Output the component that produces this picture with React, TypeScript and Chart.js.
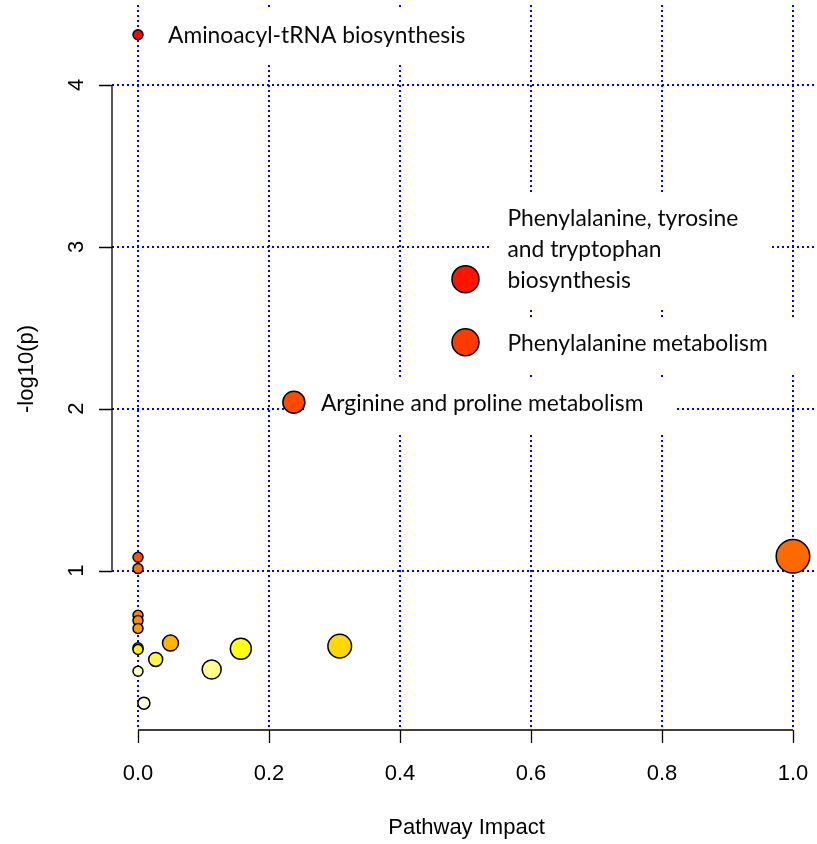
import { useEffect, useRef } from "react";
import { Chart, registerables } from "chart.js";

Chart.register(...registerables);

// Pathway analysis results: impact vs. -log10(p)
const pathwayImpact = [
  0.0, 0.5, 0.5, 0.238, 1.0,
  0.0, 0.0, 0.0, 0.0, 0.0,
  0.0, 0.0, 0.0, 0.009, 0.027,
  0.0496, 0.1125, 0.157, 0.308,
];
const negLogP = [
  4.31, 2.80, 2.41, 2.04, 1.088,
  1.082, 1.012, 0.724, 0.691, 0.642,
  0.523, 0.512, 0.378, 0.181, 0.451,
  0.552, 0.389, 0.517, 0.533,
];
const bubbleRadius = [
  5, 13.5, 13.5, 11, 16.8,
  5, 5, 5, 5, 5,
  5, 5, 5, 6, 7,
  8, 9.5, 10.5, 11.8,
];
const bubbleColor = [
  "#FF0000", "#FF1400", "#FF3A00", "#FF4800", "#FF6A00",
  "#FF5200", "#FF7000", "#FF8400", "#FF8C00", "#FF9A00",
  "#FFB400", "#FFF200", "#FFFFC8", "#FFFFE6", "#FFF54A",
  "#FFB400", "#FFFF88", "#FFFF10", "#FFD800",
];

// Annotated pathways (index into the arrays above) and their text lines
const labelIndex = [0, 1, 2, 3];
const labelLines = [
  ["Aminoacyl-tRNA biosynthesis"],
  ["Phenylalanine, tyrosine", "and tryptophan", "biosynthesis"],
  ["Phenylalanine metabolism"],
  ["Arginine and proline metabolism"],
];
const labelDx = [30, 42, 42, 27];

const xTicks = [0, 0.2, 0.4, 0.6, 0.8, 1.0];
const xTickLabels = ["0.0", "0.2", "0.4", "0.6", "0.8", "1.0"];
const yTicks = [1, 2, 3, 4];
const yTickLabels = ["1", "2", "3", "4"];

const xTitle = "Pathway Impact";
const yTitle = "-log10(p)";

const AXIS_FONT = '22px "Liberation Sans", Arial, sans-serif';
const LABEL_FONT = '22.8px Lato, "Open Sans", sans-serif';
const LINE_GAP = 31;

const decorations = {
  id: "pathwayDecorations",
  beforeDatasetsDraw(chart: any) {
    const { ctx, chartArea: area, scales } = chart;
    const xs = scales.x;
    const ys = scales.y;

    // dotted blue reference grid
    ctx.save();
    ctx.strokeStyle = "#0000FF";
    ctx.lineWidth = 2;
    ctx.setLineDash([2, 3]);
    xTicks.forEach((v) => {
      const px = Math.round(xs.getPixelForValue(v));
      ctx.beginPath();
      ctx.moveTo(px, area.top - 3);
      ctx.lineTo(px, area.bottom);
      ctx.stroke();
    });
    yTicks.forEach((v) => {
      const py = Math.round(ys.getPixelForValue(v));
      ctx.beginPath();
      ctx.moveTo(area.left, py);
      ctx.lineTo(area.right, py);
      ctx.stroke();
    });
    ctx.restore();

    // white backing boxes behind the annotations
    ctx.save();
    ctx.font = LABEL_FONT;
    ctx.fillStyle = "#FFFFFF";
    labelIndex.forEach((idx, k) => {
      const lines = labelLines[k];
      const px = xs.getPixelForValue(pathwayImpact[idx]);
      const py = ys.getPixelForValue(negLogP[idx]);
      const tx = px + labelDx[k];
      const firstY = py - (lines.length - 1) * LINE_GAP;
      const w = Math.max(...lines.map((l) => ctx.measureText(l).width));
      ctx.fillRect(tx - 16, firstY - 25, w + 49, py - firstY + 55);
    });
    ctx.restore();
  },
  afterDatasetsDraw(chart: any) {
    const { ctx, chartArea: area, scales } = chart;
    const xs = scales.x;
    const ys = scales.y;

    // annotation text
    ctx.save();
    ctx.font = LABEL_FONT;
    ctx.fillStyle = "#0A0A0A";
    ctx.textAlign = "left";
    ctx.textBaseline = "middle";
    labelIndex.forEach((idx, k) => {
      const lines = labelLines[k];
      const px = xs.getPixelForValue(pathwayImpact[idx]);
      const py = ys.getPixelForValue(negLogP[idx]);
      const tx = px + labelDx[k];
      const firstY = py - (lines.length - 1) * LINE_GAP;
      lines.forEach((l, j) => ctx.fillText(l, tx, firstY + j * LINE_GAP + 1));
    });
    ctx.restore();

    ctx.save();
    ctx.strokeStyle = "#000000";
    ctx.lineWidth = 1.3;
    ctx.setLineDash([]);

    // x axis
    const x0 = xs.getPixelForValue(xTicks[0]);
    const x1 = xs.getPixelForValue(xTicks[xTicks.length - 1]);
    const axY = area.bottom;
    ctx.beginPath();
    ctx.moveTo(x0, axY);
    ctx.lineTo(x1, axY);
    xTicks.forEach((v) => {
      const px = Math.round(xs.getPixelForValue(v)) + 0.5;
      ctx.moveTo(px, axY);
      ctx.lineTo(px, axY + 13);
    });
    ctx.stroke();

    // y axis
    const y0 = ys.getPixelForValue(yTicks[0]);
    const y1 = ys.getPixelForValue(yTicks[yTicks.length - 1]);
    const axX = area.left;
    ctx.beginPath();
    ctx.moveTo(axX, y0);
    ctx.lineTo(axX, y1);
    yTicks.forEach((v) => {
      const py = Math.round(ys.getPixelForValue(v)) + 0.5;
      ctx.moveTo(axX, py);
      ctx.lineTo(axX - 13, py);
    });
    ctx.stroke();

    // tick labels
    ctx.fillStyle = "#000000";
    ctx.font = AXIS_FONT;
    ctx.textAlign = "center";
    ctx.textBaseline = "middle";
    xTicks.forEach((v, i) => {
      ctx.fillText(xTickLabels[i], xs.getPixelForValue(v), axY + 44);
    });
    yTicks.forEach((v, i) => {
      ctx.save();
      ctx.translate(axX - 35, ys.getPixelForValue(v));
      ctx.rotate(-Math.PI / 2);
      ctx.fillText(yTickLabels[i], 0, 0);
      ctx.restore();
    });

    // axis titles
    ctx.fillText(xTitle, (area.left + area.right) / 2 + 2, axY + 98);
    ctx.save();
    ctx.translate(area.left - 85, (area.top + area.bottom) / 2);
    ctx.rotate(-Math.PI / 2);
    ctx.fillText(yTitle, 0, 0);
    ctx.restore();
    ctx.restore();
  },
};

export default function App() {
  const canvasRef = useRef<HTMLCanvasElement | null>(null);

  useEffect(() => {
    const canvas = canvasRef.current;
    if (!canvas) return;
    const chart = new Chart(canvas, {
      type: "bubble",
      data: {
        datasets: [
          {
            data: pathwayImpact.map((x, i) => ({
              x,
              y: negLogP[i],
              r: bubbleRadius[i],
            })),
            backgroundColor: bubbleColor,
            borderColor: "#000000",
            borderWidth: 1.5,
            clip: false,
          } as any,
        ],
      },
      options: {
        responsive: false,
        animation: false,
        events: [],
        layout: {
          autoPadding: false,
          padding: { left: 112, right: 0, top: 8, bottom: 114 },
        },
        plugins: {
          legend: { display: false },
          tooltip: { enabled: false },
        },
        scales: {
          x: { type: "linear", display: false, min: -0.0397, max: 1.0367 },
          y: { type: "linear", display: false, min: 0.015, max: 4.475 },
        },
      } as any,
      plugins: [decorations],
    });
    return () => chart.destroy();
  }, []);

  return (
    <div style={{ position: "absolute", left: 0, top: 0, width: 817, height: 844, background: "#fff" }}>
      <canvas ref={canvasRef} width={817} height={844} style={{ display: "block" }} />
    </div>
  );
}
